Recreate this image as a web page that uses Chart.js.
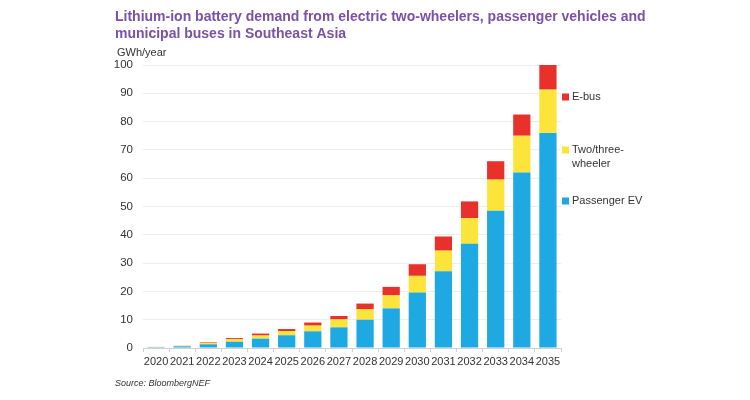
<!DOCTYPE html>
<html><head><meta charset="utf-8">
<script src="https://cdn.jsdelivr.net/npm/chart.js@4/dist/chart.umd.min.js"></script>
<style>html,body{margin:0;padding:0;background:#fff}#wrap{width:750px;height:400px;position:relative}</style>
</head><body><div id="wrap"><canvas id="c" width="750" height="400"></canvas></div>
<script>
const years = ['2020','2021','2022','2023','2024','2025','2026','2027','2028','2029','2030','2031','2032','2033','2034','2035'];
const passengerEV = [0.3,0.6,1.3,2.2,3.3,4.5,5.9,7.3,10,14,19.6,27.1,36.8,48.5,62,76];
const twoThree = [0.08,0.15,0.5,0.9,1.1,1.5,2,2.8,3.7,4.6,5.9,7.3,9.1,11,13,15.3];
const eBus = [0.02,0.05,0.2,0.4,0.7,0.7,1.1,1.2,2,3,4.1,5,5.9,6.5,7.5,8.7];
const yTicks = [0,10,20,30,40,50,60,70,80,90,100];
const titleLines = ['Lithium-ion battery demand from electric two-wheelers, passenger vehicles and','municipal buses in Southeast Asia'];
const unitLabel = 'GWh/year';
const sourceText = 'Source: BloombergNEF';
const legendItems = [
  {label:['E-bus'], color:'#e8312a', y:97},
  {label:['Two/three-','wheeler'], color:'#fde43a', y:150},
  {label:['Passenger EV'], color:'#1fa9e2', y:201}
];
const FONT = '"Liberation Sans", Arial, sans-serif';

const textPlugin = {
  id:'texts',
  afterDraw(chart){
    const ctx = chart.ctx;
    ctx.save();
    ctx.textBaseline = 'middle';
    ctx.textAlign = 'left';
    ctx.fillStyle = '#7b51a8';
    ctx.font = 'bold 14px ' + FONT;
    ctx.fillText(titleLines[0], 115, 17);
    ctx.fillText(titleLines[1], 115, 34);
    ctx.fillStyle = '#333';
    ctx.font = '11px ' + FONT;
    ctx.fillText(unitLabel, 117, 53);
    ctx.font = 'italic 9px ' + FONT;
    ctx.fillText(sourceText, 115, 383);
    ctx.font = '11px ' + FONT;
    legendItems.forEach(it=>{
      ctx.fillStyle = it.color;
      ctx.fillRect(562, it.y-3.5, 7, 7);
      ctx.fillStyle = '#333';
      it.label.forEach((l,i)=>ctx.fillText(l, 572, it.y + i*14));
    });
    ctx.restore();
  }
};

new Chart(document.getElementById('c'), {
  type:'bar',
  data:{
    labels: years,
    datasets:[
      {label:'Passenger EV', data: passengerEV, backgroundColor:'#1fa9e2', categoryPercentage:0.66, barPercentage:1},
      {label:'Two/three-wheeler', data: twoThree, backgroundColor:'#fde43a', categoryPercentage:0.66, barPercentage:1},
      {label:'E-bus', data: eBus, backgroundColor:'#e8312a', categoryPercentage:0.66, barPercentage:1}
    ]
  },
  options:{
    responsive:false,
    animation:false,
    layout:{padding:{top:65, right:189, left:0, bottom:0}},
    plugins:{legend:{display:false}, title:{display:false}, tooltip:{enabled:false}},
    scales:{
      x:{
        stacked:true,
        grid:{drawOnChartArea:false, drawTicks:true, tickLength:4, color:'#d0d0d0', offset:true},
        border:{color:'#d0d0d0'},
        ticks:{color:'#333', font:{family:FONT, size:11}, padding:3, maxRotation:0, autoSkip:false},
        afterFit(s){ s.height = 52; }
      },
      y:{
        stacked:true,
        min:0, max:100,
        afterBuildTicks(s){ s.ticks = yTicks.map(v=>({value:v})); },
        grid:{color:'#ededed', drawTicks:false},
        border:{display:false},
        ticks:{color:'#333', font:{family:FONT, size:11.5}, padding:10},
        afterFit(s){ s.width = 143; }
      }
    }
  },
  plugins:[textPlugin]
});
</script></body></html>
